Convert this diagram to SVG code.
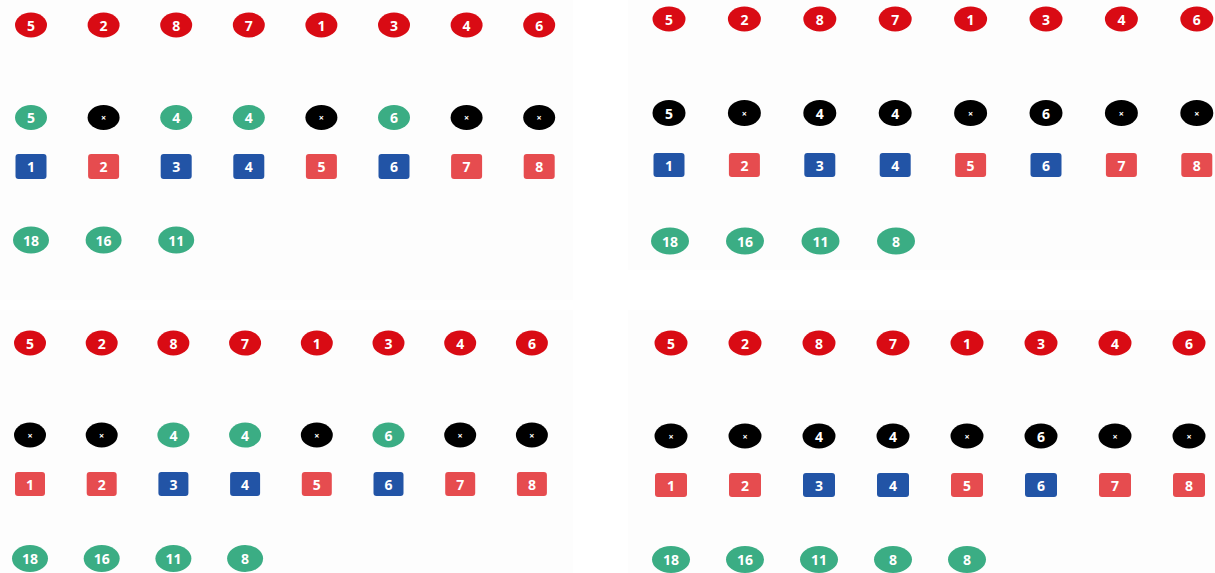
<svg xmlns="http://www.w3.org/2000/svg" width="1215" height="573" viewBox="0 0 1215 573">
<style>
.bg{fill:#fdfdfd}
.rc{fill:#d90b14}
.bk{fill:#000}
.gc{fill:#3bad84}
.rs{fill:#e64c4f}
.bs{fill:#2254a6}
text{font-family:"Open Sans","Liberation Sans",sans-serif;font-weight:bold;font-size:14px;fill:#fff;text-anchor:middle;dominant-baseline:central}
text.x{font-size:9px}
</style>
<rect width="1215" height="573" fill="#ffffff"/>
<rect class="bg" x="0" y="0" width="573" height="300"/>
<rect class="bg" x="628" y="0" width="587" height="270"/>
<rect class="bg" x="0" y="310" width="573" height="263"/>
<rect class="bg" x="628" y="310" width="587" height="263"/>
<g id="connectors"/>

<!-- TOP LEFT -->
<g id="tl-red">
<g id="tl-r1"><ellipse class="rc" cx="31" cy="25" rx="16" ry="12.5"/><text x="31" y="25">5</text></g>
<g id="tl-r2"><ellipse class="rc" cx="103.6" cy="25" rx="16" ry="12.5"/><text x="103.6" y="25">2</text></g>
<g id="tl-r3"><ellipse class="rc" cx="176.2" cy="25" rx="16" ry="12.5"/><text x="176.2" y="25">8</text></g>
<g id="tl-r4"><ellipse class="rc" cx="248.8" cy="25" rx="16" ry="12.5"/><text x="248.8" y="25">7</text></g>
<g id="tl-r5"><ellipse class="rc" cx="321.4" cy="25" rx="16" ry="12.5"/><text x="321.4" y="25">1</text></g>
<g id="tl-r6"><ellipse class="rc" cx="394" cy="25" rx="16" ry="12.5"/><text x="394" y="25">3</text></g>
<g id="tl-r7"><ellipse class="rc" cx="466.6" cy="25" rx="16" ry="12.5"/><text x="466.6" y="25">4</text></g>
<g id="tl-r8"><ellipse class="rc" cx="539.2" cy="25" rx="16" ry="12.5"/><text x="539.2" y="25">6</text></g>
</g>
<g id="tl-mid">
<g id="tl-m1"><ellipse class="gc" cx="31" cy="117.5" rx="16" ry="12.5"/><text x="31" y="117.5">5</text></g>
<g id="tl-m2"><ellipse class="bk" cx="103.6" cy="117.5" rx="16" ry="12.5"/><text class="x" x="103.6" y="117.5">×</text></g>
<g id="tl-m3"><ellipse class="gc" cx="176.2" cy="117.5" rx="16" ry="12.5"/><text x="176.2" y="117.5">4</text></g>
<g id="tl-m4"><ellipse class="gc" cx="248.8" cy="117.5" rx="16" ry="12.5"/><text x="248.8" y="117.5">4</text></g>
<g id="tl-m5"><ellipse class="bk" cx="321.4" cy="117.5" rx="16" ry="12.5"/><text class="x" x="321.4" y="117.5">×</text></g>
<g id="tl-m6"><ellipse class="gc" cx="394" cy="117.5" rx="16" ry="12.5"/><text x="394" y="117.5">6</text></g>
<g id="tl-m7"><ellipse class="bk" cx="466.6" cy="117.5" rx="16" ry="12.5"/><text class="x" x="466.6" y="117.5">×</text></g>
<g id="tl-m8"><ellipse class="bk" cx="539.2" cy="117.5" rx="16" ry="12.5"/><text class="x" x="539.2" y="117.5">×</text></g>
</g>
<g id="tl-sq">
<g id="tl-s1"><rect class="bs" x="15.5" y="154" width="31" height="25" rx="3"/><text x="31" y="166.5">1</text></g>
<g id="tl-s2"><rect class="rs" x="88.1" y="154" width="31" height="25" rx="3"/><text x="103.6" y="166.5">2</text></g>
<g id="tl-s3"><rect class="bs" x="160.7" y="154" width="31" height="25" rx="3"/><text x="176.2" y="166.5">3</text></g>
<g id="tl-s4"><rect class="bs" x="233.3" y="154" width="31" height="25" rx="3"/><text x="248.8" y="166.5">4</text></g>
<g id="tl-s5"><rect class="rs" x="305.9" y="154" width="31" height="25" rx="3"/><text x="321.4" y="166.5">5</text></g>
<g id="tl-s6"><rect class="bs" x="378.5" y="154" width="31" height="25" rx="3"/><text x="394" y="166.5">6</text></g>
<g id="tl-s7"><rect class="rs" x="451.1" y="154" width="31" height="25" rx="3"/><text x="466.6" y="166.5">7</text></g>
<g id="tl-s8"><rect class="rs" x="523.7" y="154" width="31" height="25" rx="3"/><text x="539.2" y="166.5">8</text></g>
</g>
<g id="tl-sum">
<g id="tl-g1"><ellipse class="gc" cx="31" cy="240" rx="18" ry="13.5"/><text x="31" y="240">18</text></g>
<g id="tl-g2"><ellipse class="gc" cx="103.6" cy="240" rx="18" ry="13.5"/><text x="103.6" y="240">16</text></g>
<g id="tl-g3"><ellipse class="gc" cx="176.2" cy="240" rx="18" ry="13.5"/><text x="176.2" y="240">11</text></g>
</g>

<!-- TOP RIGHT -->
<g id="tr-red">
<g id="tr-r1"><ellipse class="rc" cx="669" cy="19" rx="16.5" ry="12.5"/><text x="669" y="19">5</text></g>
<g id="tr-r2"><ellipse class="rc" cx="744.4" cy="19" rx="16.5" ry="12.5"/><text x="744.4" y="19">2</text></g>
<g id="tr-r3"><ellipse class="rc" cx="819.8" cy="19" rx="16.5" ry="12.5"/><text x="819.8" y="19">8</text></g>
<g id="tr-r4"><ellipse class="rc" cx="895.2" cy="19" rx="16.5" ry="12.5"/><text x="895.2" y="19">7</text></g>
<g id="tr-r5"><ellipse class="rc" cx="970.6" cy="19" rx="16.5" ry="12.5"/><text x="970.6" y="19">1</text></g>
<g id="tr-r6"><ellipse class="rc" cx="1046" cy="19" rx="16.5" ry="12.5"/><text x="1046" y="19">3</text></g>
<g id="tr-r7"><ellipse class="rc" cx="1121.4" cy="19" rx="16.5" ry="12.5"/><text x="1121.4" y="19">4</text></g>
<g id="tr-r8"><ellipse class="rc" cx="1196.8" cy="19" rx="16.5" ry="12.5"/><text x="1196.8" y="19">6</text></g>
</g>
<g id="tr-mid">
<g id="tr-m1"><ellipse class="bk" cx="669" cy="113" rx="16.5" ry="13"/><text x="669" y="113">5</text></g>
<g id="tr-m2"><ellipse class="bk" cx="744.4" cy="113" rx="16.5" ry="13"/><text class="x" x="744.4" y="113">×</text></g>
<g id="tr-m3"><ellipse class="bk" cx="819.8" cy="113" rx="16.5" ry="13"/><text x="819.8" y="113">4</text></g>
<g id="tr-m4"><ellipse class="bk" cx="895.2" cy="113" rx="16.5" ry="13"/><text x="895.2" y="113">4</text></g>
<g id="tr-m5"><ellipse class="bk" cx="970.6" cy="113" rx="16.5" ry="13"/><text class="x" x="970.6" y="113">×</text></g>
<g id="tr-m6"><ellipse class="bk" cx="1046" cy="113" rx="16.5" ry="13"/><text x="1046" y="113">6</text></g>
<g id="tr-m7"><ellipse class="bk" cx="1121.4" cy="113" rx="16.5" ry="13"/><text class="x" x="1121.4" y="113">×</text></g>
<g id="tr-m8"><ellipse class="bk" cx="1196.8" cy="113" rx="16.5" ry="13"/><text class="x" x="1196.8" y="113">×</text></g>
</g>
<g id="tr-sq">
<g id="tr-s1"><rect class="bs" x="653.5" y="153" width="31" height="24" rx="3"/><text x="669" y="165">1</text></g>
<g id="tr-s2"><rect class="rs" x="728.9" y="153" width="31" height="24" rx="3"/><text x="744.4" y="165">2</text></g>
<g id="tr-s3"><rect class="bs" x="804.3" y="153" width="31" height="24" rx="3"/><text x="819.8" y="165">3</text></g>
<g id="tr-s4"><rect class="bs" x="879.7" y="153" width="31" height="24" rx="3"/><text x="895.2" y="165">4</text></g>
<g id="tr-s5"><rect class="rs" x="955.1" y="153" width="31" height="24" rx="3"/><text x="970.6" y="165">5</text></g>
<g id="tr-s6"><rect class="bs" x="1030.5" y="153" width="31" height="24" rx="3"/><text x="1046" y="165">6</text></g>
<g id="tr-s7"><rect class="rs" x="1105.9" y="153" width="31" height="24" rx="3"/><text x="1121.4" y="165">7</text></g>
<g id="tr-s8"><rect class="rs" x="1181.3" y="153" width="31" height="24" rx="3"/><text x="1196.8" y="165">8</text></g>
</g>
<g id="tr-sum">
<g id="tr-g1"><ellipse class="gc" cx="670" cy="241" rx="19" ry="13.5"/><text x="670" y="241">18</text></g>
<g id="tr-g2"><ellipse class="gc" cx="745" cy="241" rx="19" ry="13.5"/><text x="745" y="241">16</text></g>
<g id="tr-g3"><ellipse class="gc" cx="820.5" cy="241" rx="19" ry="13.5"/><text x="820.5" y="241">11</text></g>
<g id="tr-g4"><ellipse class="gc" cx="896" cy="241" rx="19" ry="13.5"/><text x="896" y="241">8</text></g>
</g>

<!-- BOTTOM LEFT -->
<g id="bl-red">
<g id="bl-r1"><ellipse class="rc" cx="30" cy="343" rx="16" ry="12.5"/><text x="30" y="343">5</text></g>
<g id="bl-r2"><ellipse class="rc" cx="101.7" cy="343" rx="16" ry="12.5"/><text x="101.7" y="343">2</text></g>
<g id="bl-r3"><ellipse class="rc" cx="173.4" cy="343" rx="16" ry="12.5"/><text x="173.4" y="343">8</text></g>
<g id="bl-r4"><ellipse class="rc" cx="245.1" cy="343" rx="16" ry="12.5"/><text x="245.1" y="343">7</text></g>
<g id="bl-r5"><ellipse class="rc" cx="316.8" cy="343" rx="16" ry="12.5"/><text x="316.8" y="343">1</text></g>
<g id="bl-r6"><ellipse class="rc" cx="388.5" cy="343" rx="16" ry="12.5"/><text x="388.5" y="343">3</text></g>
<g id="bl-r7"><ellipse class="rc" cx="460.2" cy="343" rx="16" ry="12.5"/><text x="460.2" y="343">4</text></g>
<g id="bl-r8"><ellipse class="rc" cx="531.9" cy="343" rx="16" ry="12.5"/><text x="531.9" y="343">6</text></g>
</g>
<g id="bl-mid">
<g id="bl-m1"><ellipse class="bk" cx="30" cy="435" rx="16" ry="12.5"/><text class="x" x="30" y="435">×</text></g>
<g id="bl-m2"><ellipse class="bk" cx="101.7" cy="435" rx="16" ry="12.5"/><text class="x" x="101.7" y="435">×</text></g>
<g id="bl-m3"><ellipse class="gc" cx="173.4" cy="435" rx="16" ry="12.5"/><text x="173.4" y="435">4</text></g>
<g id="bl-m4"><ellipse class="gc" cx="245.1" cy="435" rx="16" ry="12.5"/><text x="245.1" y="435">4</text></g>
<g id="bl-m5"><ellipse class="bk" cx="316.8" cy="435" rx="16" ry="12.5"/><text class="x" x="316.8" y="435">×</text></g>
<g id="bl-m6"><ellipse class="gc" cx="388.5" cy="435" rx="16" ry="12.5"/><text x="388.5" y="435">6</text></g>
<g id="bl-m7"><ellipse class="bk" cx="460.2" cy="435" rx="16" ry="12.5"/><text class="x" x="460.2" y="435">×</text></g>
<g id="bl-m8"><ellipse class="bk" cx="531.9" cy="435" rx="16" ry="12.5"/><text class="x" x="531.9" y="435">×</text></g>
</g>
<g id="bl-sq">
<g id="bl-s1"><rect class="rs" x="15" y="472" width="30" height="24" rx="3"/><text x="30" y="484">1</text></g>
<g id="bl-s2"><rect class="rs" x="86.7" y="472" width="30" height="24" rx="3"/><text x="101.7" y="484">2</text></g>
<g id="bl-s3"><rect class="bs" x="158.4" y="472" width="30" height="24" rx="3"/><text x="173.4" y="484">3</text></g>
<g id="bl-s4"><rect class="bs" x="230.1" y="472" width="30" height="24" rx="3"/><text x="245.1" y="484">4</text></g>
<g id="bl-s5"><rect class="rs" x="301.8" y="472" width="30" height="24" rx="3"/><text x="316.8" y="484">5</text></g>
<g id="bl-s6"><rect class="bs" x="373.5" y="472" width="30" height="24" rx="3"/><text x="388.5" y="484">6</text></g>
<g id="bl-s7"><rect class="rs" x="445.2" y="472" width="30" height="24" rx="3"/><text x="460.2" y="484">7</text></g>
<g id="bl-s8"><rect class="rs" x="516.9" y="472" width="30" height="24" rx="3"/><text x="531.9" y="484">8</text></g>
</g>
<g id="bl-sum">
<g id="bl-g1"><ellipse class="gc" cx="30" cy="558.5" rx="18" ry="13.5"/><text x="30" y="558.5">18</text></g>
<g id="bl-g2"><ellipse class="gc" cx="101.7" cy="558.5" rx="18" ry="13.5"/><text x="101.7" y="558.5">16</text></g>
<g id="bl-g3"><ellipse class="gc" cx="173.4" cy="558.5" rx="18" ry="13.5"/><text x="173.4" y="558.5">11</text></g>
<g id="bl-g4"><ellipse class="gc" cx="245.1" cy="558.5" rx="18" ry="13.5"/><text x="245.1" y="558.5">8</text></g>
</g>

<!-- BOTTOM RIGHT -->
<g id="br-red">
<g id="br-r1"><ellipse class="rc" cx="671" cy="343" rx="16.5" ry="12.5"/><text x="671" y="343">5</text></g>
<g id="br-r2"><ellipse class="rc" cx="745" cy="343" rx="16.5" ry="12.5"/><text x="745" y="343">2</text></g>
<g id="br-r3"><ellipse class="rc" cx="819" cy="343" rx="16.5" ry="12.5"/><text x="819" y="343">8</text></g>
<g id="br-r4"><ellipse class="rc" cx="893" cy="343" rx="16.5" ry="12.5"/><text x="893" y="343">7</text></g>
<g id="br-r5"><ellipse class="rc" cx="967" cy="343" rx="16.5" ry="12.5"/><text x="967" y="343">1</text></g>
<g id="br-r6"><ellipse class="rc" cx="1041" cy="343" rx="16.5" ry="12.5"/><text x="1041" y="343">3</text></g>
<g id="br-r7"><ellipse class="rc" cx="1115" cy="343" rx="16.5" ry="12.5"/><text x="1115" y="343">4</text></g>
<g id="br-r8"><ellipse class="rc" cx="1189" cy="343" rx="16.5" ry="12.5"/><text x="1189" y="343">6</text></g>
</g>
<g id="br-mid">
<g id="br-m1"><ellipse class="bk" cx="671" cy="436" rx="16.5" ry="12.5"/><text class="x" x="671" y="436">×</text></g>
<g id="br-m2"><ellipse class="bk" cx="745" cy="436" rx="16.5" ry="12.5"/><text class="x" x="745" y="436">×</text></g>
<g id="br-m3"><ellipse class="bk" cx="819" cy="436" rx="16.5" ry="12.5"/><text x="819" y="436">4</text></g>
<g id="br-m4"><ellipse class="bk" cx="893" cy="436" rx="16.5" ry="12.5"/><text x="893" y="436">4</text></g>
<g id="br-m5"><ellipse class="bk" cx="967" cy="436" rx="16.5" ry="12.5"/><text class="x" x="967" y="436">×</text></g>
<g id="br-m6"><ellipse class="bk" cx="1041" cy="436" rx="16.5" ry="12.5"/><text x="1041" y="436">6</text></g>
<g id="br-m7"><ellipse class="bk" cx="1115" cy="436" rx="16.5" ry="12.5"/><text class="x" x="1115" y="436">×</text></g>
<g id="br-m8"><ellipse class="bk" cx="1189" cy="436" rx="16.5" ry="12.5"/><text class="x" x="1189" y="436">×</text></g>
</g>
<g id="br-sq">
<g id="br-s1"><rect class="rs" x="655" y="473" width="32" height="24" rx="3"/><text x="671" y="485">1</text></g>
<g id="br-s2"><rect class="rs" x="729" y="473" width="32" height="24" rx="3"/><text x="745" y="485">2</text></g>
<g id="br-s3"><rect class="bs" x="803" y="473" width="32" height="24" rx="3"/><text x="819" y="485">3</text></g>
<g id="br-s4"><rect class="bs" x="877" y="473" width="32" height="24" rx="3"/><text x="893" y="485">4</text></g>
<g id="br-s5"><rect class="rs" x="951" y="473" width="32" height="24" rx="3"/><text x="967" y="485">5</text></g>
<g id="br-s6"><rect class="bs" x="1025" y="473" width="32" height="24" rx="3"/><text x="1041" y="485">6</text></g>
<g id="br-s7"><rect class="rs" x="1099" y="473" width="32" height="24" rx="3"/><text x="1115" y="485">7</text></g>
<g id="br-s8"><rect class="rs" x="1173" y="473" width="32" height="24" rx="3"/><text x="1189" y="485">8</text></g>
</g>
<g id="br-sum">
<g id="br-g1"><ellipse class="gc" cx="671" cy="559.5" rx="19" ry="13.5"/><text x="671" y="559.5">18</text></g>
<g id="br-g2"><ellipse class="gc" cx="745" cy="559.5" rx="19" ry="13.5"/><text x="745" y="559.5">16</text></g>
<g id="br-g3"><ellipse class="gc" cx="819" cy="559.5" rx="19" ry="13.5"/><text x="819" y="559.5">11</text></g>
<g id="br-g4"><ellipse class="gc" cx="893" cy="559.5" rx="19" ry="13.5"/><text x="893" y="559.5">8</text></g>
<g id="br-g5"><ellipse class="gc" cx="967" cy="559.5" rx="19" ry="13.5"/><text x="967" y="559.5">8</text></g>
</g>
</svg>
